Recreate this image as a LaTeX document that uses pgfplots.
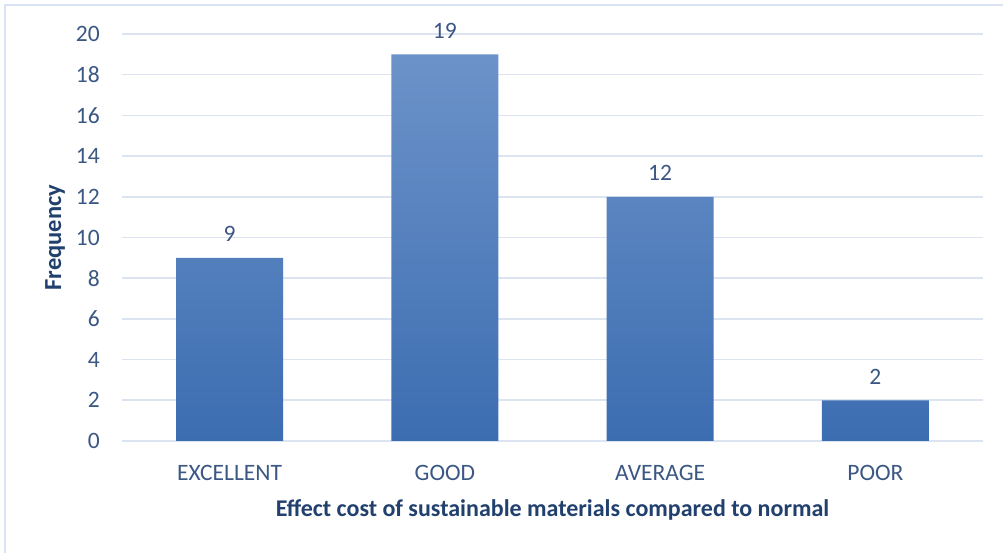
\documentclass[border=0pt]{standalone}
\usepackage{fontspec}
\setmainfont{Carlito}
\usepackage{pgfplots}
\pgfplotsset{compat=1.18}

\definecolor{ticktext}{HTML}{3B5784}
\definecolor{titletext}{HTML}{21406E}
\definecolor{gridc}{HTML}{DCE4F2}
\definecolor{frame}{HTML}{DAE3F3}
\definecolor{bartop}{HTML}{6C93C9}
\definecolor{barbot}{HTML}{3C6DB1}

\begin{document}
\begin{tikzpicture}[x=1pt,y=1pt]
  % canvas
  \useasboundingbox (0,0) rectangle (1003,553);
  \fill[white] (0,0) rectangle (1003,553);
  \draw[frame, line width=2.2pt] (5,0) -- (5,548) -- (1003,548);

  \begin{axis}[
    at={(122pt,112pt)}, anchor=south west,
    scale only axis,
    width=861pt, height=407pt,
    xmin=-0.5, xmax=3.5,
    ymin=0, ymax=20,
    ytick={0,2,...,20},
    xtick=data,
    xticklabels={EXCELLENT,GOOD,AVERAGE,POOR},
    axis line style={draw=none},
    major tick length=0pt,
    ymajorgrids,
    grid style={gridc, line width=1.6pt},
    /pgf/number format/assume math mode=true,
    tick label style={font=\fontsize{23.5}{28}\selectfont, text=ticktext},
    yticklabel style={anchor=east, inner sep=0pt, xshift=-22pt},
    xticklabel style={anchor=center, inner sep=0pt, yshift=-32pt},
    ylabel={Frequency},
    xlabel={Effect cost of sustainable materials compared to normal},
    every axis y label/.style={at={(axis description cs:0,0.5)}, xshift=-67pt, rotate=90, anchor=center, inner sep=0pt,
      font=\bfseries\fontsize{24.5}{28}\selectfont, text=titletext},
    every axis x label/.style={at={(axis description cs:0.5,0)}, yshift=-69pt, anchor=center, inner sep=0pt,
      font=\bfseries\fontsize{24}{28}\selectfont, text=titletext},
    ybar, bar width=107pt,
    nodes near coords,
    nodes near coords style={font=\fontsize{23.5}{28}\selectfont, text=ticktext, anchor=south, inner sep=0pt, yshift=16pt},
    clip=false,
  ]
    \addplot[draw=none, shading=axis, top color=bartop, bottom color=barbot, shading angle=0]
      coordinates {(0,9) (1,19) (2,12) (3,2)};
  \end{axis}
\end{tikzpicture}
\end{document}
